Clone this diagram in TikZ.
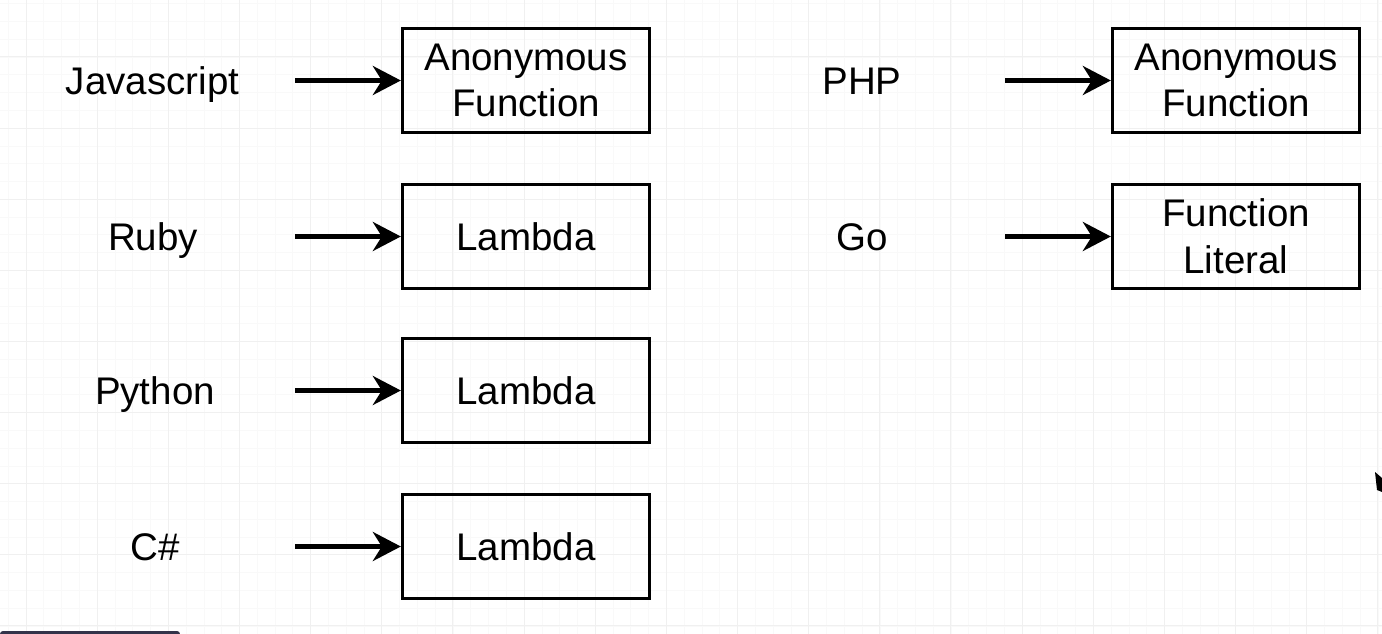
\documentclass[tikz,border=0pt]{standalone}
\usepackage{fontspec}
\setmainfont{Liberation Sans}
\usetikzlibrary{arrows.meta}
\begin{document}
\begin{tikzpicture}[x=1pt,y=-1pt,
  boxnode/.style={draw=black, line width=3.3pt, minimum width=247pt, minimum height=104pt,
    inner sep=0pt, align=center, font=\fontsize{38.5}{46.6}\selectfont},
  langlabel/.style={anchor=base, inner sep=0pt, font=\fontsize{38.5}{46.6}\selectfont},
  conn/.style={line width=4.5pt, -{Stealth[length=28pt,width=29pt,inset=9pt]}},
  majorgrid/.style={draw=black!6, line width=1pt},
  minorgrid/.style={draw=black!2.5, line width=0.8pt}]
\useasboundingbox (0,0) rectangle (1382,634);
\fill[white] (0,0) rectangle (1382,634);
% grid
\foreach \i in {-8,...,80} {
  \pgfmathsetmacro\gx{26+17.79*\i}
  \draw[minorgrid] (\gx,0) -- (\gx,634);
}
\foreach \j in {-4,...,40} {
  \pgfmathsetmacro\gy{-14.1+17.78*\j}
  \draw[minorgrid] (0,\gy) -- (1382,\gy);
}
\foreach \i in {-1,...,20} {
  \pgfmathsetmacro\gx{26+71.15*\i}
  \draw[majorgrid] (\gx,0) -- (\gx,634);
}
\foreach \j in {0,...,10} {
  \pgfmathsetmacro\gy{-14.1+71.1*\j}
  \draw[majorgrid] (0,\gy) -- (1382,\gy);
}
% boxes
\node[boxnode] (b1) at (526,80.5) {Anonymous\\Function};
\node[boxnode] (b2) at (526,236.5) {Lambda};
\node[boxnode] (b3) at (526,390.5) {Lambda};
\node[boxnode] (b4) at (526,546.5) {Lambda};
\node[boxnode] (b5) at (1236,80.5) {Anonymous\\Function};
\node[boxnode] (b6) at (1236,236.5) {Function\\Literal};
% labels
\node[langlabel] (l1) at (152.5,94.5) {Javascript};
\node[langlabel] (l2) at (153,250.5) {Ruby};
\node[langlabel] (l3) at (155,404.5) {Python};
\node[langlabel] (l4) at (155,560.5) {C\#};
\node[langlabel] (l5) at (862,94.5) {PHP};
\node[langlabel] (l6) at (862,250.5) {Go};
% arrow starts
\coordinate (s1) at (295,80.5);
\coordinate (s2) at (295,236.5);
\coordinate (s3) at (295,390.5);
\coordinate (s4) at (295,546.5);
\coordinate (s5) at (1005,80.5);
\coordinate (s6) at (1005,236.5);
\draw[conn] (s1) -- (b1.west);
\draw[conn] (s2) -- (b2.west);
\draw[conn] (s3) -- (b3.west);
\draw[conn] (s4) -- (b4.west);
\draw[conn] (s5) -- (b5.west);
\draw[conn] (s6) -- (b6.west);
% screen artefacts
\fill[black!85!blue!60!gray, rounded corners=3pt] (0,631) rectangle (180,640);
\fill[black] (1375,472) -- (1382,478) -- (1382,492) -- (1377,490) -- cycle;
\end{tikzpicture}
\end{document}
